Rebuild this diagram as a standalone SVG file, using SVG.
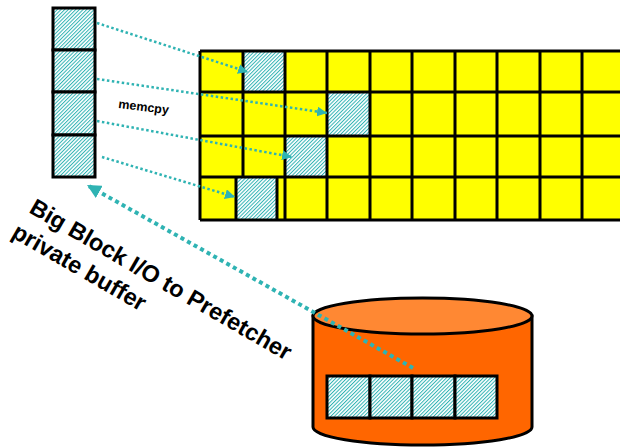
<svg xmlns="http://www.w3.org/2000/svg" width="620" height="447" viewBox="0 0 620 447">
<defs>
<pattern id="hatch" patternUnits="userSpaceOnUse" width="2.6" height="2.6" patternTransform="rotate(45)">
<rect width="2.6" height="2.6" fill="#ffffff"/>
<rect width="1" height="2.6" fill="#2fb3b3"/>
</pattern>
<marker id="ah" markerUnits="userSpaceOnUse" markerWidth="12" markerHeight="10" refX="10" refY="5" orient="auto">
<path d="M0,0 L10,5 L0,10 Z" fill="#2fb3b3"/>
</marker>
<marker id="ahBig" markerUnits="userSpaceOnUse" markerWidth="16" markerHeight="14" refX="14" refY="7" orient="auto">
<path d="M0,0 L14,7 L0,14 Z" fill="#2fb3b3"/>
</marker>
</defs>
<style>
.hc{fill:url(#hatch);stroke:#000;stroke-width:3}
.gl{stroke:#000;stroke-width:3;fill:none}
.dot{fill:none;stroke:#2fb3b3;stroke-width:2.5;stroke-dasharray:2.5 2.5}
.dotBig{fill:none;stroke:#2fb3b3;stroke-width:4;stroke-dasharray:4 3.5}
.lbl{font-family:"Liberation Sans",Arial,sans-serif;font-weight:bold;fill:#000}
</style>

<g id="buffer">
<rect class="hc" x="53" y="8" width="42" height="42"/>
<rect class="hc" x="53" y="50" width="42" height="42"/>
<rect class="hc" x="53" y="92" width="42" height="43"/>
<rect class="hc" x="53" y="135" width="42" height="42"/>
</g>

<g id="memory-grid">
<rect x="200" y="51" width="430" height="169" fill="#ffff00"/>
<rect x="243" y="51" width="42" height="41" fill="url(#hatch)"/>
<rect x="327" y="92" width="43" height="44" fill="url(#hatch)"/>
<rect x="285" y="136" width="42" height="41" fill="url(#hatch)"/>
<rect x="236" y="177" width="41" height="43" fill="url(#hatch)"/>
<path class="gl" d="M200,51H630M200,92H630M200,136H630M200,177H630M200,220H630"/>
<path class="gl" d="M200,51V220M243,51V177M285,51V220M327,51V220M370,51V220M412,51V220M455,51V220M497,51V220M540,51V220M582,51V220M236,177V220M277,177V220"/>
</g>

<g id="disk">
<path d="M313,316 V427 A109.5,18 0 0 0 532,427 V316 Z" fill="#ff6600" stroke="#000" stroke-width="3"/>
<ellipse cx="422.5" cy="316" rx="109.5" ry="18" fill="#ff8833" stroke="#000" stroke-width="3"/>
<rect class="hc" x="327" y="376" width="43" height="42"/>
<rect class="hc" x="370" y="376" width="42" height="42"/>
<rect class="hc" x="412" y="376" width="43" height="42"/>
<rect class="hc" x="455" y="376" width="42" height="42"/>
</g>

<g id="connectors">
<path class="dot" d="M97,23 L248,72" marker-end="url(#ah)"/>
<path class="dot" d="M97,79 L327,113" marker-end="url(#ah)"/>
<path class="dot" d="M97,121 L292,157" marker-end="url(#ah)"/>
<path class="dot" d="M102,157 L235,197" marker-end="url(#ah)"/>
<path class="dotBig" d="M413,368 L87,185" marker-end="url(#ahBig)"/>
</g>

<g id="labels">
<text class="lbl" font-size="12.5" transform="translate(118,108) rotate(7)">memcpy</text>
<text class="lbl" font-size="23.5" transform="translate(28,212) rotate(30)"><tspan x="0" y="0">Big Block I/O to Prefetcher</tspan><tspan x="-3" y="30">private buffer</tspan></text>
</g>
</svg>
